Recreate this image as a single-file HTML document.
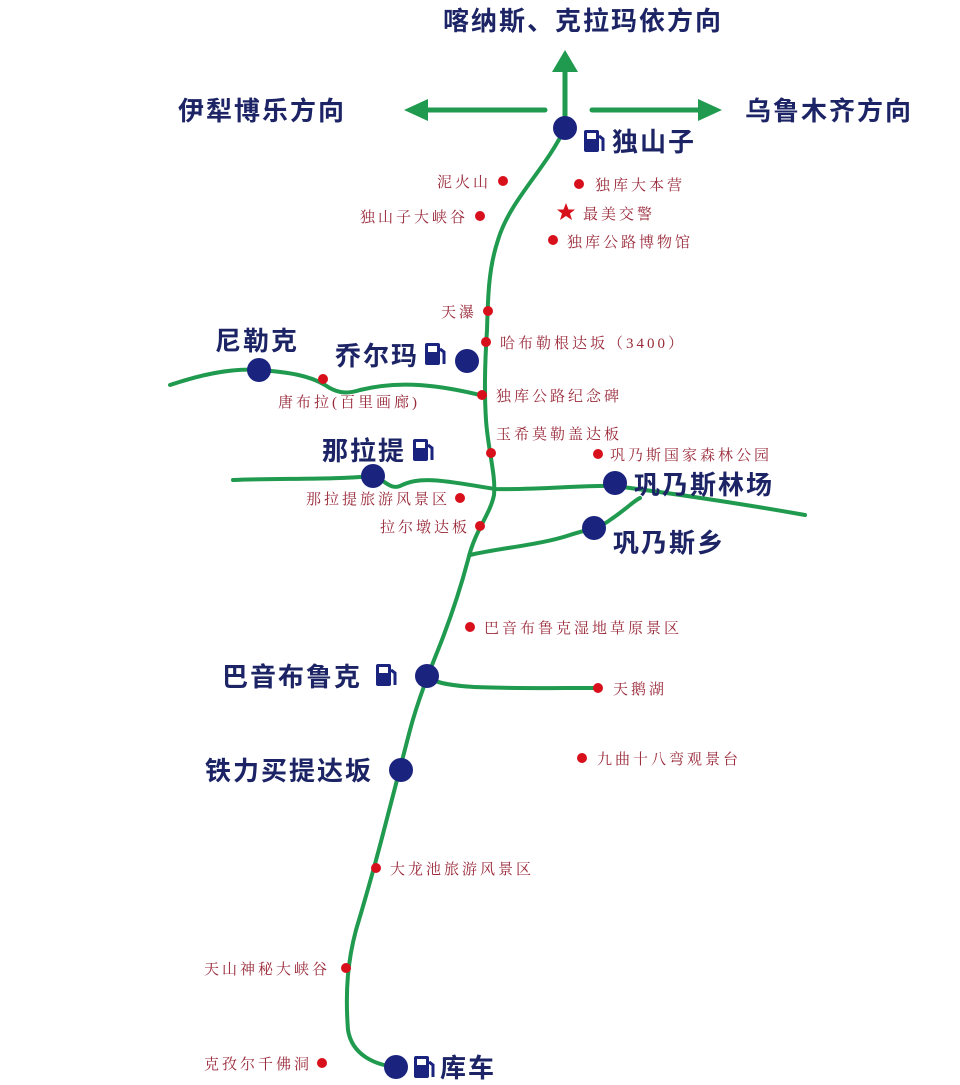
<!DOCTYPE html>
<html><head><meta charset="utf-8"><style>
body{margin:0;background:#fff}
svg{display:block}
.b{font-family:"Liberation Sans","Noto Sans CJK SC",sans-serif;font-weight:bold;fill:#1c2466;font-size:26px;letter-spacing:2px}
.r{font-family:"Liberation Serif","Noto Serif CJK SC",serif;fill:#9a2a3a;font-size:15px;letter-spacing:3px}
.g{fill:none;stroke:#1f9a4e;stroke-width:4;stroke-linecap:round;stroke-linejoin:round}
.c{fill:#1a237e}
.d{fill:#d8101c}
</style></head><body>
<svg width="960" height="1085" viewBox="0 0 960 1085">
<defs>
<g id="f"><rect x="0" y="0" width="15" height="22" rx="2" fill="#1a237e"/><rect x="3" y="3" width="9" height="6" fill="#fff"/><path d="M15 6 l4 3 v12" stroke="#1a237e" stroke-width="3" fill="none"/></g>
</defs>
<path class="g" style="stroke-width:5" d="M565 128 V70"/><polygon points="552,72 578,72 565,50" fill="#1f9a4e"/>
<path class="g" style="stroke-width:5" d="M545 110 H425"/><polygon points="428,99 428,121 404,110" fill="#1f9a4e"/>
<path class="g" style="stroke-width:5" d="M592 110 H700"/><polygon points="698,99 698,121 722,110" fill="#1f9a4e"/>
<path class="g" d="M565 128 C545 170 510 200 498 240 C488 270 488 300 487 330 C485 360 484 390 486 420 C488 450 496 475 494 495 C490 515 475 530 468 560 C460 590 450 620 438 650 C430 670 418 700 410 730 C402 760 392 800 384 830 C375 865 365 900 356 930 C348 960 345 990 348 1030 C352 1055 375 1065 396 1067"/>
<path class="g" d="M170 385 C200 375 230 368 258 370 C290 372 310 376 325 385 C335 392 345 395 360 390 C400 380 440 385 484 396"/>
<path class="g" d="M233 480 C280 478 330 480 373 476 C385 480 390 490 400 486 C420 476 440 480 495 489 C540 490 580 485 615 486 C660 492 720 500 805 515"/>
<path class="g" d="M470 555 C500 548 540 545 570 535 C585 530 600 528 610 520 C625 510 635 500 640 498"/>
<path class="g" d="M427 676 C440 690 500 688 598 688"/>
<circle class="c" cx="565" cy="128" r="12"/>
<circle class="c" cx="259" cy="370" r="12"/>
<circle class="c" cx="467" cy="361" r="12"/>
<circle class="c" cx="373" cy="476" r="12"/>
<circle class="c" cx="615" cy="483" r="12"/>
<circle class="c" cx="594" cy="528" r="12"/>
<circle class="c" cx="427" cy="676" r="12"/>
<circle class="c" cx="401" cy="770" r="12"/>
<circle class="c" cx="396" cy="1067" r="12"/>
<g class="d">
<circle cx="503" cy="181" r="5"/><circle cx="480" cy="216" r="5"/><circle cx="579" cy="184" r="5"/><circle cx="553" cy="240" r="5"/>
<circle cx="488" cy="311" r="5"/><circle cx="486" cy="342" r="5"/><circle cx="323" cy="379" r="5"/><circle cx="482" cy="395" r="5"/>
<circle cx="491" cy="453" r="5"/><circle cx="598" cy="454" r="5"/><circle cx="460" cy="498" r="5"/><circle cx="480" cy="526" r="5"/>
<circle cx="470" cy="627" r="5"/><circle cx="598" cy="688" r="5"/><circle cx="582" cy="758" r="5"/><circle cx="376" cy="868" r="5"/>
<circle cx="346" cy="968" r="5"/><circle cx="322" cy="1063" r="5"/>
<polygon points="566,203 568.5,209.5 575,209.5 570,213.5 572,220 566,216 560,220 562,213.5 557,209.5 563.5,209.5"/>
</g>
<text class="b" x="583" y="30" text-anchor="middle">喀纳斯、克拉玛依方向</text>
<text class="b" x="178" y="120">伊犁博乐方向</text>
<text class="b" x="745" y="120">乌鲁木齐方向</text>
<use href="#f" x="584" y="130"/><text class="b" x="612" y="151">独山子</text>
<text class="b" x="215" y="350">尼勒克</text>
<text class="b" x="335" y="365">乔尔玛</text><use href="#f" x="425" y="343"/>
<text class="b" x="322" y="460">那拉提</text><use href="#f" x="413" y="439"/>
<text class="b" x="634" y="494">巩乃斯林场</text>
<text class="b" x="613" y="552">巩乃斯乡</text>
<text class="b" x="222" y="686">巴音布鲁克</text><use href="#f" x="376" y="664"/>
<text class="b" x="205" y="780">铁力买提达坂</text>
<use href="#f" x="414" y="1056"/><text class="b" x="440" y="1077">库车</text>
<text class="r" x="491" y="187" text-anchor="end">泥火山</text>
<text class="r" x="468" y="222" text-anchor="end">独山子大峡谷</text>
<text class="r" x="595" y="190">独库大本营</text>
<text class="r" x="583" y="219">最美交警</text>
<text class="r" x="567" y="247">独库公路博物馆</text>
<text class="r" x="477" y="317" text-anchor="end">天瀑</text>
<text class="r" x="500" y="348">哈布勒根达坂（3400）</text>
<text class="r" x="278" y="407">唐布拉(百里画廊)</text>
<text class="r" x="496" y="401">独库公路纪念碑</text>
<text class="r" x="496" y="439">玉希莫勒盖达板</text>
<text class="r" x="610" y="460">巩乃斯国家森林公园</text>
<text class="r" x="450" y="504" text-anchor="end">那拉提旅游风景区</text>
<text class="r" x="470" y="532" text-anchor="end">拉尔墩达板</text>
<text class="r" x="484" y="633">巴音布鲁克湿地草原景区</text>
<text class="r" x="613" y="694">天鹅湖</text>
<text class="r" x="597" y="764">九曲十八弯观景台</text>
<text class="r" x="390" y="874">大龙池旅游风景区</text>
<text class="r" x="330" y="974" text-anchor="end">天山神秘大峡谷</text>
<text class="r" x="312" y="1069" text-anchor="end">克孜尔千佛洞</text>
</svg>
</body></html>
